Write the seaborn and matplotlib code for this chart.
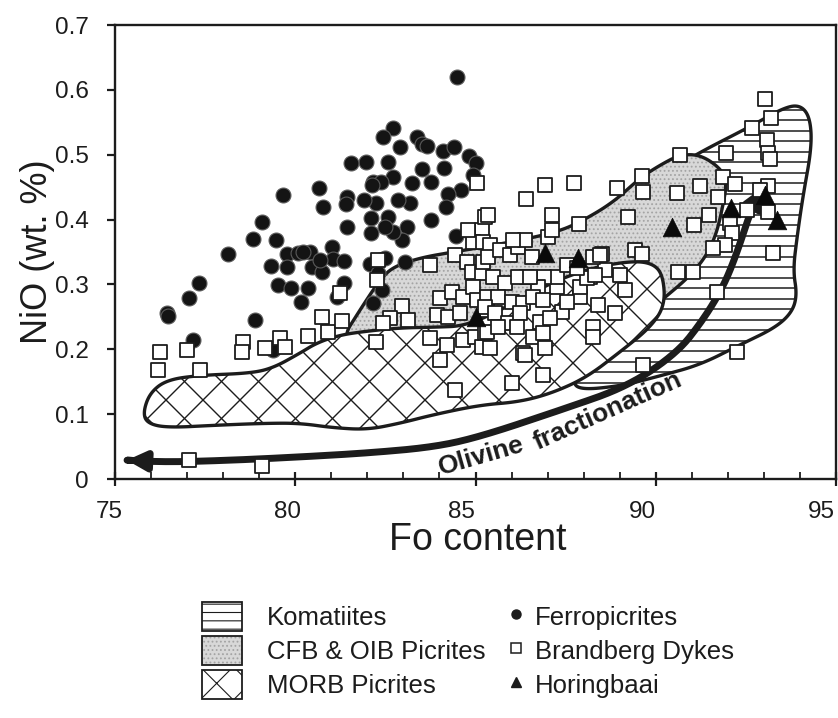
import numpy as np
import pandas as pd
import matplotlib
matplotlib.use("Agg")
import matplotlib.pyplot as plt
import seaborn as sns
from matplotlib.patches import Polygon, Patch, FancyArrowPatch
from matplotlib.path import Path
from matplotlib.lines import Line2D
from matplotlib.collections import LineCollection
from matplotlib.legend_handler import HandlerTuple
import matplotlib.transforms as mtransforms

sns.set_style("ticks")
plt.rcParams['font.family'] = ['Liberation Sans', 'DejaVu Sans']
plt.rcParams['hatch.linewidth'] = 0.8

INK = '#1c1c1c'

# ---------------- data (Fo content, NiO wt.%) ----------------
ferropicrites = [
    (82.71, 0.541), (82.43, 0.527), (82.91, 0.512), (83.38, 0.527), (83.52, 0.517),
    (83.65, 0.513), (84.10, 0.506), (84.40, 0.512), (84.82, 0.498), (85.01, 0.487),
    (84.93, 0.469), (84.13, 0.480), (83.52, 0.478), (83.77, 0.458), (83.24, 0.456),
    (82.71, 0.466), (82.57, 0.489), (81.96, 0.489), (81.55, 0.487), (82.16, 0.458),
    (82.38, 0.458), (82.13, 0.453), (84.60, 0.446), (84.24, 0.439), (84.18, 0.419),
    (83.18, 0.426), (82.85, 0.430), (82.24, 0.426), (81.91, 0.430), (81.44, 0.435),
    (81.41, 0.424), (80.77, 0.419), (80.66, 0.449), (79.66, 0.438), (79.08, 0.396),
    (78.83, 0.370), (79.47, 0.368), (81.44, 0.389), (82.10, 0.402), (82.57, 0.404),
    (83.10, 0.389), (83.77, 0.399), (82.96, 0.368), (82.10, 0.379), (82.71, 0.381),
    (82.49, 0.389), (84.46, 0.375), (84.49, 0.620), (78.13, 0.347), (79.77, 0.347),
    (80.08, 0.348), (80.41, 0.350), (81.02, 0.358), (79.33, 0.328), (79.77, 0.327),
    (80.46, 0.327), (80.74, 0.319), (81.05, 0.339), (81.35, 0.336), (82.07, 0.331),
    (83.04, 0.335), (79.52, 0.299), (79.88, 0.294), (80.35, 0.294), (81.35, 0.302),
    (80.16, 0.273), (77.33, 0.302), (77.05, 0.279), (76.44, 0.256), (78.88, 0.245),
    (77.16, 0.214), (82.41, 0.291), (82.16, 0.271), (81.16, 0.281), (82.35, 0.338),
    (80.69, 0.338), (80.22, 0.350), (82.30, 0.318), (82.49, 0.341), (79.38, 0.199),
    (76.47, 0.251),
]

brandberg = [
    (76.25, 0.196), (77.00, 0.199), (76.19, 0.168), (77.36, 0.168), (78.55, 0.211),
    (78.52, 0.196), (79.16, 0.202), (79.58, 0.217), (79.72, 0.204), (80.35, 0.220),
    (80.91, 0.227), (80.74, 0.250), (81.30, 0.244), (81.24, 0.287), (82.24, 0.211),
    (82.96, 0.267), (82.63, 0.248), (83.13, 0.245), (82.43, 0.241), (82.29, 0.338),
    (82.27, 0.307), (77.05, 0.029), (79.08, 0.020),
    (83.74, 0.330), (84.43, 0.345), (84.76, 0.335), (85.18, 0.384), (85.26, 0.404),
    (84.93, 0.365), (84.79, 0.384), (84.90, 0.319), (85.18, 0.318), (85.21, 0.335),
    (84.01, 0.279), (84.35, 0.288), (84.65, 0.281), (84.93, 0.296), (83.93, 0.253),
    (84.24, 0.250), (84.57, 0.256), (85.04, 0.276), (85.32, 0.281), (83.74, 0.217),
    (84.21, 0.207), (84.65, 0.214), (84.01, 0.183), (84.99, 0.219), (85.18, 0.204),
    (85.26, 0.225), (85.32, 0.261), (84.43, 0.137), (85.04, 0.456),
    (86.93, 0.453), (87.73, 0.456), (86.40, 0.432), (85.35, 0.407), (87.12, 0.407),
    (88.92, 0.449), (89.61, 0.467), (89.64, 0.442), (89.22, 0.404), (87.87, 0.393),
    (89.42, 0.353), (89.61, 0.347), (88.50, 0.347), (89.00, 0.315), (89.14, 0.291),
    (88.87, 0.256), (88.26, 0.234), (88.26, 0.219), (88.40, 0.268), (87.90, 0.281),
    (87.90, 0.296), (88.18, 0.311), (88.59, 0.322), (87.40, 0.257), (87.53, 0.273),
    (87.25, 0.296), (87.27, 0.311), (86.91, 0.311), (86.72, 0.296), (86.44, 0.311),
    (85.21, 0.365), (85.40, 0.361), (85.35, 0.342), (85.68, 0.353), (85.96, 0.345),
    (86.18, 0.358), (86.37, 0.368), (86.04, 0.368), (86.56, 0.342), (87.01, 0.373),
    (87.12, 0.384), (85.48, 0.311), (85.81, 0.302), (86.18, 0.311), (86.51, 0.311),
    (85.62, 0.281), (86.01, 0.273), (86.32, 0.271), (86.60, 0.281), (86.87, 0.276),
    (85.26, 0.265), (85.54, 0.256), (85.90, 0.241), (86.23, 0.256), (86.79, 0.242),
    (87.07, 0.248), (85.32, 0.227), (85.62, 0.234), (86.15, 0.234), (86.60, 0.219),
    (86.87, 0.225), (85.40, 0.202), (86.32, 0.194), (86.93, 0.202), (86.01, 0.148),
    (86.87, 0.160), (89.64, 0.176), (88.26, 0.342), (88.45, 0.345), (88.09, 0.310),
    (88.31, 0.315), (87.53, 0.330), (87.81, 0.325), (86.37, 0.191),
    (93.03, 0.586), (93.20, 0.557), (92.67, 0.541), (93.09, 0.523), (93.11, 0.503),
    (93.17, 0.493), (90.67, 0.500), (91.95, 0.503), (91.87, 0.466), (92.20, 0.455),
    (91.23, 0.452), (90.59, 0.441), (91.73, 0.435), (93.11, 0.452), (92.89, 0.446),
    (92.53, 0.415), (91.48, 0.407), (91.06, 0.392), (92.06, 0.395), (92.12, 0.379),
    (91.92, 0.361), (91.59, 0.356), (93.25, 0.348), (90.62, 0.319), (91.03, 0.319),
    (91.70, 0.288), (92.25, 0.196), (93.11, 0.412),
]

horingbaai = [
    (85.01, 0.250), (86.93, 0.348), (87.84, 0.341), (90.45, 0.389),
    (92.09, 0.418), (93.03, 0.438), (93.36, 0.399),
]

# field outlines (Fo, NiO)
komatiite_field = [
    (87.76, 0.137), (89.01, 0.143), (90.12, 0.159), (91.23, 0.176), (92.34, 0.207),
    (93.31, 0.233), (93.78, 0.257), (93.92, 0.284), (93.81, 0.322), (93.92, 0.373),
    (94.08, 0.435), (94.33, 0.512), (94.28, 0.558), (94.00, 0.577), (93.53, 0.572),
    (92.61, 0.543), (91.23, 0.504), (90.40, 0.476), (89.56, 0.430), (89.01, 0.368),
    (88.59, 0.291), (88.18, 0.214), (87.76, 0.160),
]
cfb_field = [
    (81.19, 0.207), (81.88, 0.268), (82.35, 0.307), (82.71, 0.327), (83.46, 0.341),
    (84.38, 0.350), (85.04, 0.356), (86.23, 0.368), (87.26, 0.381), (87.90, 0.396),
    (88.81, 0.426), (89.56, 0.464), (90.12, 0.484), (90.67, 0.500), (91.23, 0.500),
    (91.78, 0.480), (91.98, 0.458), (91.84, 0.415), (91.67, 0.376), (91.37, 0.341),
    (90.89, 0.310), (90.34, 0.284), (89.84, 0.261), (87.34, 0.222), (84.85, 0.207),
    (82.91, 0.207),
]
morb_field = [
    (75.78, 0.103), (75.97, 0.133), (76.44, 0.153), (77.36, 0.160), (78.74, 0.163),
    (79.38, 0.171), (80.13, 0.194), (80.60, 0.210), (81.24, 0.222), (81.99, 0.228),
    (82.91, 0.233), (83.82, 0.234), (84.76, 0.236), (85.96, 0.268), (87.07, 0.302),
    (88.18, 0.325), (89.29, 0.336), (89.90, 0.333), (90.20, 0.315), (90.26, 0.268),
    (89.84, 0.233), (89.01, 0.196), (88.09, 0.157), (87.15, 0.133), (86.23, 0.119),
    (85.12, 0.114), (83.82, 0.099), (82.91, 0.086), (81.99, 0.076), (81.05, 0.079),
    (80.13, 0.086), (79.22, 0.086), (77.83, 0.083), (76.44, 0.079), (75.89, 0.086),
]
fractionation_arrow = [
    (75.33, 0.029), (76.44, 0.026), (78.27, 0.029), (80.13, 0.034), (81.99, 0.040),
    (83.82, 0.049), (85.12, 0.065), (87.34, 0.106), (89.20, 0.142), (90.59, 0.194),
    (91.31, 0.245), (91.87, 0.296), (92.25, 0.348), (92.61, 0.410), (92.97, 0.450),
]

x_ticks = [75, 80, 85, 90, 95]
y_ticks = [0, 0.1, 0.2, 0.3, 0.4, 0.5, 0.6, 0.7]
y_tick_labels = ['0', '0.1', '0.2', '0.3', '0.4', '0.5', '0.6', '0.7']

field_labels = ['Komatiites', 'CFB & OIB Picrites', 'MORB Picrites']
point_labels = ['Ferropicrites', 'Brandberg Dykes', 'Horingbaai']


def to_df(pairs):
    a = np.asarray(pairs, float)
    return pd.DataFrame({'Fo': a[:, 0], 'NiO': a[:, 1]})


def chaikin(pts, n=4, closed=True):
    p = np.asarray(pts, float)
    for _ in range(n):
        if closed:
            q = np.roll(p, -1, axis=0)
            new = np.empty((2 * len(p), 2))
            new[0::2] = 0.75 * p + 0.25 * q
            new[1::2] = 0.25 * p + 0.75 * q
            p = new
        else:
            a, b = p[:-1], p[1:]
            new = np.empty((2 * len(a), 2))
            new[0::2] = 0.75 * a + 0.25 * b
            new[1::2] = 0.25 * a + 0.75 * b
            p = np.vstack([p[:1], new, p[-1:]])
    return p


W, H = 838, 718
fig = plt.figure(figsize=(W / 100, H / 100), dpi=100)
ax = fig.add_axes([115 / W, 1 - 479 / H, 721 / W, 454 / H])
ax.set_xlim(75, 95)
ax.set_ylim(0, 0.7)
AXW, AXH = 721.0, 454.0

# ---- Komatiite field: horizontal lines ----
kom_pts = chaikin(komatiite_field)
kom = Polygon(kom_pts, closed=True, facecolor='white', edgecolor='none', zorder=1)
ax.add_patch(kom)
ys = np.arange(0.004, 1, 10.5 / AXH)
lc = LineCollection([[(0, y), (1, y)] for y in ys], transform=ax.transAxes,
                    colors=INK, linewidths=1.1, zorder=1.1)
ax.add_collection(lc)
lc.set_clip_path(kom)
ax.add_patch(Polygon(kom_pts, closed=True, fill=False, edgecolor=INK, lw=2.4, zorder=1.2))

# ---- CFB & OIB field: stipple ----
cfb_pts = chaikin(cfb_field)
ax.add_patch(Polygon(cfb_pts, closed=True, facecolor='#d8d8d8', edgecolor='#a4a4a4',
                     hatch='....', lw=0, zorder=2))
ax.add_patch(Polygon(cfb_pts, closed=True, fill=False, edgecolor=INK, lw=2.4, zorder=2.2))

# ---- MORB field: cross hatch ----
morb_pts = chaikin(morb_field)
morb = Polygon(morb_pts, closed=True, facecolor='white', edgecolor='none', zorder=3)
ax.add_patch(morb)
sp = 37.0 / AXW
r = AXH / AXW
segs = []
for c in np.arange(-r - 1, 2, sp):
    segs.append([(c, 0), (c + r, 1)])
    segs.append([(c + r, 0), (c, 1)])
lc2 = LineCollection(segs, transform=ax.transAxes, colors=INK, linewidths=1.0, zorder=3.1)
ax.add_collection(lc2)
lc2.set_clip_path(morb)
ax.add_patch(Polygon(morb_pts, closed=True, fill=False, edgecolor=INK, lw=2.4, zorder=3.2))

# ---- Olivine fractionation arrow ----
arr = chaikin(fractionation_arrow, n=4, closed=False)
codes = [Path.MOVETO] + [Path.LINETO] * (len(arr) - 1)
fa = FancyArrowPatch(path=Path(arr, codes),
                     arrowstyle='<|-|>,head_length=0.55,head_width=0.28',
                     mutation_scale=20, lw=5.0, color=INK, zorder=4)
ax.add_patch(fa)
ax.text(85.15, 0.036, 'Olivine', rotation=16, rotation_mode='anchor', ha='center',
        va='center', fontsize=19, fontweight='bold', color=INK, zorder=4)
ax.text(88.66, 0.105, 'fractionation', rotation=24, rotation_mode='anchor', ha='center',
        va='center', fontsize=19, fontweight='bold', color=INK, zorder=4)

# ---- scatter points ----
fer = to_df(ferropicrites)
bra = to_df(brandberg)
hor = to_df(horingbaai)
sns.scatterplot(data=fer, x='Fo', y='NiO', ax=ax, marker='o', s=115, color='#141414',
                edgecolor='#5a5a5a', linewidth=0.8, zorder=5, legend=False)
sns.scatterplot(data=bra, x='Fo', y='NiO', ax=ax, marker='s', s=92, color='white',
                edgecolor=INK, linewidth=1.3, zorder=6, legend=False)
sns.scatterplot(data=hor, x='Fo', y='NiO', ax=ax, marker='^', s=180, color='#0a0a0a',
                edgecolor='#0a0a0a', linewidth=0.5, zorder=7, legend=False)

# ---- axes styling ----
ax.set_xlabel('')
ax.set_ylabel('')
ax.set_xticks(x_ticks)
ax.set_xticks(np.arange(75, 96, 1), minor=True)
ax.set_yticks(y_ticks)
ax.set_yticklabels(y_tick_labels)
for s in ax.spines.values():
    s.set_visible(True)
    s.set_linewidth(1.7)
    s.set_color(INK)
ax.tick_params(axis='x', which='major', direction='inout', length=10, width=1.6,
               labelsize=17.5, pad=11, colors=INK)
ax.tick_params(axis='x', which='minor', direction='in', length=5, width=1.3, colors=INK)
ax.tick_params(axis='y', which='major', direction='out', length=6, width=1.6,
               labelsize=17.5, pad=13, colors=INK)
ax.tick_params(axis='y', which='minor', left=False)
x_label_shift_px = [-6, -8, -14, -13, -15]
for lab, dx in zip(ax.get_xticklabels(), x_label_shift_px):
    off = mtransforms.ScaledTranslation(dx / 100, 0, fig.dpi_scale_trans)
    lab.set_transform(lab.get_transform() + off)

fig.text(478 / W, 1 - 550 / H, 'Fo content', ha='center', va='baseline', fontsize=27,
         color=INK)
fig.text(38 / W, 1 - 252 / H, 'NiO (wt. %)', ha='center', va='center', rotation=90,
         fontsize=26, color=INK)

# ---- legends ----
h_kom = Patch(facecolor='white', edgecolor=INK, hatch='--', lw=1.3)
h_cfb = (Patch(facecolor='#d8d8d8', edgecolor='#a4a4a4', hatch='....', lw=0),
         Patch(facecolor='none', edgecolor=INK, lw=1.3))
h_morb = Patch(facecolor='white', edgecolor=INK, hatch='x', lw=1.3)
leg1 = fig.legend([h_kom, h_cfb, h_morb], field_labels, loc='upper left',
                  bbox_to_anchor=(202 / W, 1 - 602 / H), frameon=False, fontsize=18.5,
                  handlelength=1.55, handleheight=1.36, handletextpad=0.97,
                  labelspacing=0.2, borderpad=0, borderaxespad=0,
                  handler_map={tuple: HandlerTuple(ndivide=1, pad=0)})
for t in leg1.get_texts():
    t.set_color(INK)
m_fer = Line2D([], [], ls='none', marker='o', ms=6.5, mfc=INK, mec=INK)
m_bra = Line2D([], [], ls='none', marker='s', ms=7, mfc='white', mec=INK, mew=1.1)
m_hor = Line2D([], [], ls='none', marker='^', ms=7.5, mfc=INK, mec=INK)
leg2 = fig.legend([m_fer, m_bra, m_hor], point_labels, loc='upper left',
                  bbox_to_anchor=(508 / W, 1 - 602 / H), frameon=False, fontsize=18.5,
                  handlelength=0.6, handleheight=1.36, handletextpad=0.45,
                  labelspacing=0.2, borderpad=0, borderaxespad=0)
for t in leg2.get_texts():
    t.set_color(INK)

fig.savefig('out.png', dpi=100)
